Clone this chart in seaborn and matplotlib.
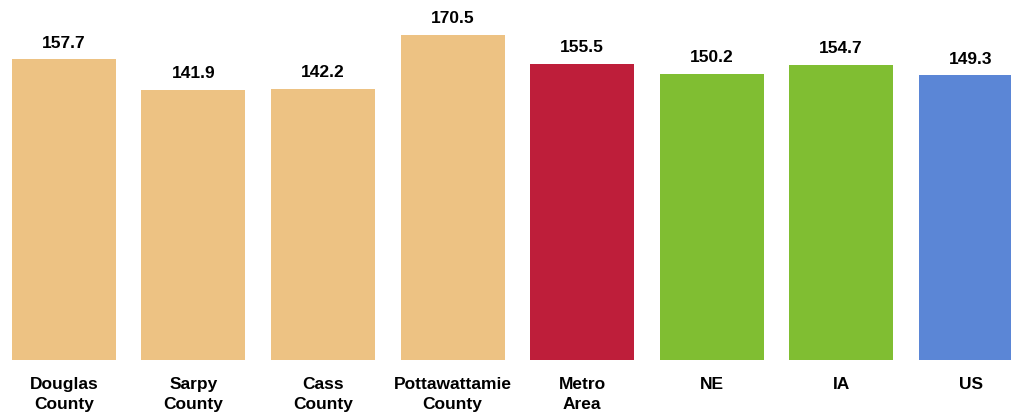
import matplotlib
matplotlib.use('Agg')
import matplotlib.pyplot as plt
import seaborn as sns
import pandas as pd

# 데이터
categories = ['Douglas\nCounty', 'Sarpy\nCounty', 'Cass\nCounty', 'Pottawattamie\nCounty',
              'Metro\nArea', 'NE', 'IA', 'US']
values = [157.7, 141.9, 142.2, 170.5, 155.5, 150.2, 154.7, 149.3]
colors = ['#EDC283', '#EDC283', '#EDC283', '#EDC283', '#BE1E3A', '#80BE32', '#80BE32', '#5B86D6']

df = pd.DataFrame({'area': categories, 'value': values})

sns.set_style('white')
plt.rcParams['font.family'] = ['Liberation Sans', 'DejaVu Sans']

fig = plt.figure(figsize=(10.12, 4.14), dpi=100)
ax = fig.add_axes([0, 53 / 414, 1, 361 / 414])

sns.barplot(x='area', y='value', hue='area', data=df, palette=colors,
            width=0.803, legend=False, ax=ax, saturation=1, linewidth=0)

# 막대 위 값 표시
for c in ax.containers:
    ax.bar_label(c, fmt='%.1f', padding=7, fontsize=12.5, fontweight='bold', color='black')

ax.set_xlim(-0.494, 7.32)
ax.set_ylim(0, 189.4)
ax.set_xlabel('')
ax.set_ylabel('')
ax.set_yticks([])
ax.tick_params(axis='x', length=0, pad=11.5)
for lbl in ax.get_xticklabels():
    lbl.set_fontweight('bold')
    lbl.set_fontsize(12.5)
    lbl.set_color('black')
    lbl.set_linespacing(1.45)
sns.despine(ax=ax, left=True, bottom=True)

plt.savefig('out.png', dpi=100)
